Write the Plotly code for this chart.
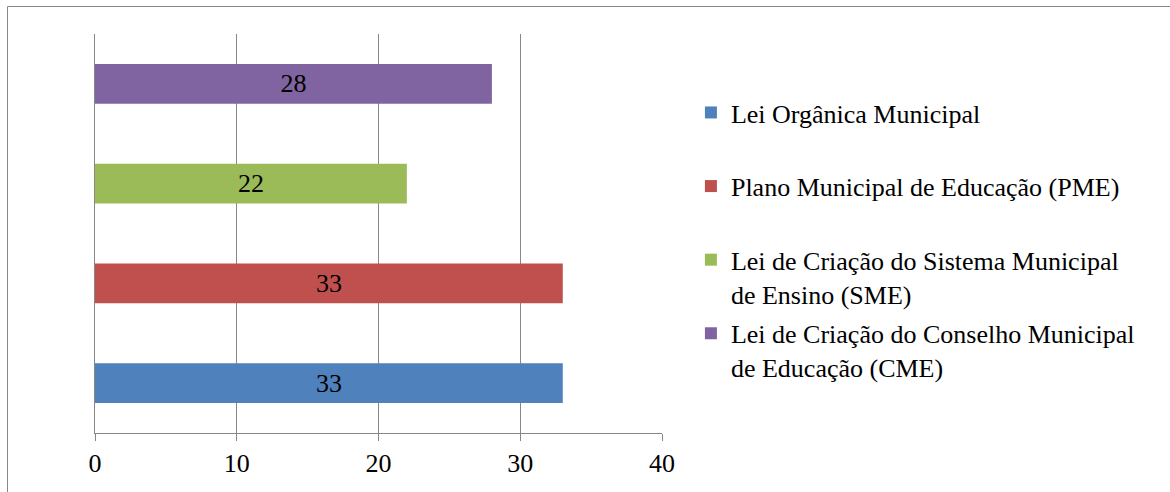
import plotly.graph_objects as go

series_names = [
    "Lei Orgânica Municipal",
    "Plano Municipal de Educação (PME)",
    "Lei de Criação do Sistema Municipal<br>de Ensino (SME)",
    "Lei de Criação do Conselho Municipal<br>de Educação (CME)",
]
categories = ["LOM", "PME", "SME", "CME"]
values = [33, 33, 22, 28]
colors = ["#4F81BD", "#C0504D", "#9BBB59", "#8064A2"]
x_ticks = [0, 10, 20, 30, 40]

FONT = "Liberation Serif"
FS = 26
GRID = "#878787"

fig = go.Figure()
for i, (name, cat, val, col) in enumerate(zip(series_names, categories, values, colors)):
    label = name if "<br>" in name else name + "<br> "
    fig.add_trace(go.Bar(
        y=[cat], x=[val], orientation="h", name=label,
        marker=dict(color=col, line=dict(width=0)),
        width=0.4,
        text=[str(val)], textposition="inside", insidetextanchor="middle",
        textfont=dict(family=FONT, size=FS, color="black"),
        legendgroup=f"g{i}",
        hoverinfo="skip",
    ))

fig.update_layout(
    width=1170, height=492,
    margin=dict(l=95, r=508, t=34, b=59, autoexpand=False),
    paper_bgcolor="white", plot_bgcolor="white",
    barmode="overlay",
    font=dict(family=FONT, size=FS, color="black"),
    showlegend=True,
    legend=dict(
        x=1.051, xanchor="left", y=0.862, yanchor="top",
        traceorder="grouped", tracegroupgap=3, valign="top",
        font=dict(family=FONT, size=FS, color="black"),
        bgcolor="rgba(0,0,0,0)",
    ),
    xaxis=dict(
        range=[0, 40], tickvals=x_ticks, ticktext=[str(t) for t in x_ticks],
        showgrid=True, gridcolor=GRID, gridwidth=1,
        showline=True, linecolor=GRID, linewidth=1,
        ticks="outside", ticklen=7, tickcolor=GRID, tickwidth=1,
        tickfont=dict(family=FONT, size=FS, color="black"),
        zeroline=False, fixedrange=True,
    ),
    yaxis=dict(
        type="category", categoryorder="array", categoryarray=categories,
        range=[-0.5, 3.5], showticklabels=False, showgrid=False,
        showline=True, linecolor=GRID, linewidth=1, zeroline=False,
        ticks="", fixedrange=True,
    ),
    shapes=[
        dict(type="line", xref="paper", yref="paper",
             x0=(7.5 - 95) / 567, x1=(1175 - 95) / 567,
             y0=(433 - 6.5) / 399, y1=(433 - 6.5) / 399,
             line=dict(color=GRID, width=1)),
        dict(type="line", xref="paper", yref="paper",
             x0=(7.5 - 95) / 567, x1=(7.5 - 95) / 567,
             y0=(433 - 6.5) / 399, y1=(433 - 500) / 399,
             line=dict(color=GRID, width=1)),
    ],
)

fig.write_html("out.html", config={"displayModeBar": False},
               post_script="document.body.style.margin='0';")
